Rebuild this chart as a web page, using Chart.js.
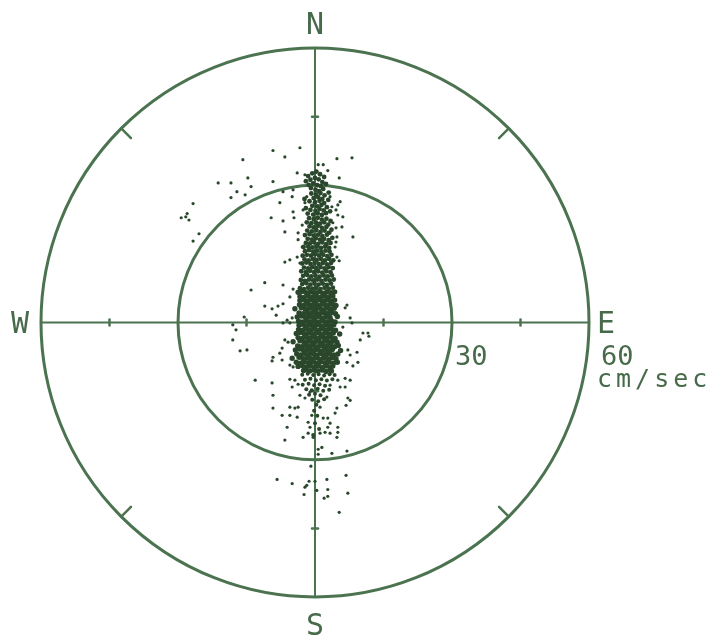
<!DOCTYPE html>
<html>
<head>
<meta charset="utf-8">
<title>Current velocity scatter</title>
<script src="https://cdn.jsdelivr.net/npm/chart.js@4.4.1/dist/chart.umd.min.js"></script>
<style>
  html, body { margin: 0; padding: 0; background: #ffffff; }
  #wrap { width: 712px; height: 638px; }
</style>
</head>
<body>
<div id="wrap"><canvas id="rose" width="712" height="638"></canvas></div>
<script>
// Speed rings (cm/sec) and their labels
const ringSpeeds = [30, 60];
const ringLabels = ['30', '60'];
const unitLabel = 'cm/sec';
// Minor tick marks along the N-S and E-W axes (cm/sec)
const axisTickSpeeds = [15, 45];
const compassPoints = ['N', 'E', 'S', 'W'];

// Velocity samples as [east, north] components in cm/sec
const northColumn = [
  [-1.5,32.0],[-0.6,32.6],[0.3,33.0],[1.1,32.4],[2.0,31.8],[-2.0,30.9],[-1.0,31.2],[0.0,31.6],[0.8,31.3],[1.6,30.7],
  [2.4,30.3],[-1.4,30.1],[-0.4,30.4],[0.5,30.0],[1.3,29.8],[-0.9,29.4],[0.1,29.0],[0.9,28.7],[1.8,29.2],
  [-0.8,28.2],[0.2,28.0],[1.2,28.3],[2.1,27.8],[-0.3,27.2],[0.7,27.4],[1.6,27.0],[-1.2,26.5],[0.0,26.3],[1.0,26.6],
  [2.0,26.1],[-0.6,25.5],[0.5,25.4],[1.4,25.7],[2.6,25.2],[-1.0,24.6],[0.1,24.4],[1.0,24.8],[1.9,24.5],[-1.6,23.8],
  [-0.4,23.6],[0.6,23.9],[1.5,23.5],[2.4,23.9],[-2.3,27.0],[3.0,28.4],[-2.0,25.0],[3.3,24.3],[2.9,26.8],
  [-1.3,22.8],[-0.3,22.6],[0.6,22.9],[1.5,22.5],[2.5,22.7],[3.4,22.2],[-1.8,21.9],[-0.8,21.7],[0.2,21.9],[1.1,21.6],
  [2.0,21.9],[2.9,21.4],[-1.2,21.0],[-0.3,20.8],[0.6,21.1],[1.5,20.7],[2.5,20.9],[3.6,20.3],[-1.7,20.1],[-0.7,19.9],
  [0.3,20.2],[1.2,19.8],[2.1,20.1],[3.0,19.6],[-2.2,19.1],[-1.2,19.3],[-0.3,19.0],[0.7,19.2],[1.6,18.9],[2.6,19.2],
  [-1.6,18.3],[-0.7,18.1],[0.2,18.4],[1.1,18.1],[2.0,18.3],[3.0,18.0],[3.8,18.5],[-2.0,17.4],[-1.1,17.3],[-0.2,17.5],
  [0.7,17.2],[1.6,17.5],[2.5,17.1],[3.4,17.4],[-2.5,16.5],[-1.5,16.6],[-0.6,16.4],[0.4,16.6],[1.3,16.3],[2.2,16.6],[3.1,16.3],
  [-2.2,15.6],[-1.3,15.8],[-0.4,15.5],[0.5,15.7],[1.4,15.4],[2.3,15.7],[3.2,15.5],
  [-2.7,14.6],[-1.8,14.8],[-0.9,14.6],[0.0,14.9],[0.9,14.6],[1.8,14.8],[2.7,14.5],[3.6,14.8],
  [-2.3,13.8],[-1.4,13.6],[-0.5,13.9],[0.4,13.7],[1.3,13.9],[2.2,13.6],[3.1,13.9],[4.0,13.6],
  [-2.8,12.9],[-1.9,13.1],[-1.0,12.8],[-0.1,13.0],[0.8,12.8],[1.7,13.0],[2.6,12.7],[3.5,13.0],
  [-2.4,12.0],[-1.5,11.8],[-0.6,12.1],[0.3,11.9],[1.2,12.1],[2.1,11.8],[3.0,12.1],[3.9,11.9],
  [-3.0,11.2],[-2.0,11.0],[-1.1,11.3],[-0.2,11.0],[0.7,11.2],[1.6,10.9],[2.5,11.2],[3.4,11.0],
  [-2.6,10.2],[-1.7,10.4],[-0.8,10.1],[0.1,10.3],[1.0,10.0],[1.9,10.3],[2.8,10.1],[3.7,10.3],
  [-3.1,9.3],[-2.2,9.1],[-1.3,9.4],[-0.4,9.2],[0.5,9.4],[1.4,9.1],[2.3,9.4],[3.2,9.2],[4.1,9.4],
  [-2.8,8.4],[-1.9,8.6],[-1.0,8.3],[-0.1,8.5],[0.8,8.3],[1.7,8.5],[2.6,8.2],[3.5,8.5],
  [-3.3,7.5],[-2.4,7.3],[-1.5,7.6],[-0.6,7.4],[0.3,7.6],[1.2,7.3],[2.1,7.6],[3.0,7.4],[3.9,7.6]
];

const coreCluster = [
  [-3.7,6.6],[-2.8,6.8],[-1.9,6.5],[-1.0,6.7],[-0.1,6.5],[0.8,6.7],[1.7,6.4],[2.6,6.7],[3.5,6.5],[4.3,6.7],
  [-3.3,5.7],[-2.4,5.5],[-1.5,5.8],[-0.6,5.6],[0.3,5.8],[1.2,5.5],[2.1,5.8],[3.0,5.6],[3.9,5.8],
  [-3.3,4.8],[-2.9,5.0],[-2.0,4.7],[-1.1,4.9],[-0.2,4.7],[0.7,4.9],[1.6,4.7],[2.5,4.9],[3.4,4.7],[4.3,4.9],
  [-3.4,3.9],[-2.5,3.7],[-1.6,4.0],[-0.7,3.8],[0.2,4.0],[1.1,3.7],[2.0,4.0],[2.9,3.8],[3.8,4.0],[4.6,3.7],
  [-4.4,3.0],[-3.0,3.2],[-2.1,2.9],[-1.2,3.1],[-0.3,2.9],[0.6,3.1],[1.5,2.8],[2.4,3.1],[3.3,2.9],[4.2,3.1],
  [-3.5,2.1],[-2.6,1.9],[-1.7,2.2],[-0.8,2.0],[0.1,2.2],[1.0,1.9],[1.9,2.2],[2.8,2.0],[3.7,2.2],[4.5,1.9],
  [-3.9,1.2],[-3.0,1.4],[-2.1,1.1],[-1.2,1.3],[-0.3,1.1],[0.6,1.3],[1.5,1.0],[2.4,1.3],[3.3,1.1],[4.9,1.3],
  [-3.6,0.3],[-2.7,0.1],[-1.8,0.4],[-0.9,0.2],[0.0,0.4],[0.9,0.1],[1.8,0.4],[2.7,0.2],[3.6,0.4],[4.4,0.1],
  [-3.5,-0.6],[-3.1,-0.4],[-2.2,-0.7],[-1.3,-0.5],[-0.4,-0.7],[0.5,-0.5],[1.4,-0.8],[2.3,-0.5],[3.2,-0.7],[4.1,-0.5],
  [-3.6,-1.5],[-2.7,-1.7],[-1.8,-1.4],[-0.9,-1.6],[0.0,-1.4],[0.9,-1.7],[1.8,-1.4],[2.7,-1.6],[3.6,-1.4],[4.5,-1.7],
  [-4.1,-2.4],[-3.2,-2.2],[-2.3,-2.5],[-1.4,-2.3],[-0.5,-2.5],[0.4,-2.3],[1.3,-2.6],[2.2,-2.3],[3.1,-2.5],[4.0,-2.3],[5.4,-2.5],
  [-3.7,-3.3],[-2.8,-3.5],[-1.9,-3.2],[-1.0,-3.4],[-0.1,-3.2],[0.8,-3.5],[1.7,-3.2],[2.6,-3.4],[3.5,-3.2],[4.4,-3.5],
  [-4.8,-4.2],[-3.3,-4.0],[-2.4,-4.3],[-1.5,-4.1],[-0.6,-4.3],[0.3,-4.1],[1.2,-4.4],[2.1,-4.1],[3.0,-4.3],[3.9,-4.1],[4.8,-4.3],
  [-3.8,-5.1],[-2.9,-5.3],[-2.0,-5.0],[-1.1,-5.2],[-0.2,-5.0],[0.7,-5.3],[1.6,-5.0],[2.5,-5.2],[3.4,-5.0],[4.3,-5.3],[5.1,-5.0],
  [-4.3,-6.0],[-3.4,-5.8],[-2.5,-6.1],[-1.6,-5.9],[-0.7,-6.1],[0.2,-5.9],[1.1,-6.2],[2.0,-5.9],[2.9,-6.1],[3.8,-5.9],[5.6,-6.1],
  [-4.0,-6.9],[-3.1,-7.1],[-2.2,-6.8],[-1.3,-7.0],[-0.4,-6.8],[0.5,-7.1],[1.4,-6.8],[2.3,-7.0],[3.2,-6.8],[4.1,-7.1],[5.0,-6.9],
  [-5.0,-7.8],[-3.5,-7.6],[-2.6,-7.9],[-1.7,-7.7],[-0.8,-7.9],[0.1,-7.7],[1.0,-8.0],[1.9,-7.7],[2.8,-7.9],[3.7,-7.7],[4.6,-7.9],
  [-4.1,-8.7],[-3.2,-8.9],[-2.3,-8.6],[-1.4,-8.8],[-0.5,-8.6],[0.4,-8.9],[1.3,-8.6],[2.2,-8.8],[3.1,-8.6],[4.0,-8.9],[4.9,-8.7],
  [-3.7,-9.6],[-2.8,-9.4],[-1.9,-9.7],[-1.0,-9.5],[-0.1,-9.7],[0.8,-9.5],[1.7,-9.8],[2.6,-9.5],[3.5,-9.7],[3.9,-9.5],
  [-2.5,-10.5],[-2.1,-10.3],[-1.2,-10.6],[-0.3,-10.4],[0.6,-10.6],[1.5,-10.4],[2.4,-10.7],[3.3,-10.4],[3.6,-10.6]
];

const southTail = [
  [-2.8,-11.4],[-1.6,-11.2],[-0.4,-11.5],[0.8,-11.3],[2.0,-11.6],[3.2,-11.3],[4.3,-11.5],
  [-2.2,-12.5],[-1.0,-12.3],[0.2,-12.6],[1.4,-12.4],[2.6,-12.7],[3.8,-12.4],
  [-2.7,-13.6],[-1.4,-13.4],[-0.2,-13.7],[1.0,-13.5],[2.2,-13.8],
  [-1.9,-14.6],[-0.7,-14.8],[0.6,-14.5],[1.8,-14.9],[3.1,-14.7],
  [-1.3,-15.8],[0.0,-15.6],[1.2,-15.9],[-0.6,-16.9],[0.7,-17.2],[2.0,-16.8],
  [0.3,-18.0],[-0.2,-19.3],[0.5,-20.4],[0.0,-22.0],[0.9,-23.3],[-0.4,-24.6]
];

const scatterSamples = [
  [-15.8,35.6],[-9.2,37.6],[4.8,35.8],[-14.7,31.6],[-18.4,30.5],[-14.0,29.7],[-9.2,30.8],[-3.9,32.7],[-2.2,32.3],
  [0.7,34.5],[1.8,34.5],[2.8,33.2],[5.3,31.6],[-17.1,28.6],[-15.3,27.9],[-18.4,27.3],[-7.0,28.6],[-4.8,29.0],
  [-7.7,26.2],[-5.0,27.5],[-4.8,24.2],[-9.6,22.9],[-7.0,22.2],[-4.6,22.9],[-2.6,24.6],[-6.6,19.8],[-3.7,19.6],
  [8.3,18.7],[3.3,27.5],[5.0,25.7],[5.5,26.4],[6.1,23.1],[5.9,20.9],[4.8,18.7],[4.6,20.7],[-2.8,16.5],[-3.9,14.3],
  [-5.5,13.7],[-3.3,13.0],[-6.6,13.2],[4.4,16.5],[4.8,14.3],[5.3,13.5],[-14.0,7.1],[-11.0,8.7],[-7.0,8.2],[-4.8,7.3],
  [-5.5,5.6],[3.7,25.3],[4.6,24.6],[5.0,23.5],[3.9,21.8],[3.3,19.6],[4.6,17.6],[-2.8,21.3],[-3.7,18.1],[-2.2,26.2],
  [-1.8,27.5],[-3.3,38.2],[-6.6,36.2],[8.1,36.0],
  [-21.2,30.5],[-26.7,26.0],[-28.0,23.8],[-28.3,23.1],[-29.3,22.9],[-27.6,22.4],[-25.4,19.4],[-26.7,17.8],
  [-18.0,-0.5],[-18.0,-3.8],
  [-11.0,3.6],[-8.1,3.6],[-7.0,4.1],[-9.4,3.0],[-15.5,1.2],[-17.3,-1.6],[-16.4,-6.2],[-14.9,-6.0],[-8.5,1.6],
  [-6.1,0.5],[-5.0,1.0],[-7.0,-0.1],[-5.5,-0.1],[7.0,3.8],[6.6,3.2],[7.7,1.0],[8.1,-0.1],[6.1,-1.0],[10.5,-2.3],
  [11.6,-2.3],[11.8,-3.0],[9.9,-3.8],[9.2,-6.5],[7.2,-6.0],[7.7,-7.1],[7.0,-8.7],[9.4,-8.7],[8.3,-9.5],[-6.6,-3.8],
  [-5.9,-4.3],[-7.2,-5.6],[-7.7,-6.7],[-9.2,-7.6],[-9.4,-8.4],[-7.2,-8.2],[-5.5,-9.3],[-4.8,-9.7],[-13.1,-12.6],
  [-9.4,-13.2],[-5.5,-12.4],[-4.4,-12.6],[-5.0,-14.1],[-3.7,-13.5],[-9.2,-15.9],[-3.3,-15.9],[-2.2,-16.5],[-1.1,-15.2],
  [2.6,-16.3],[3.3,-13.7],[5.0,-12.6],[6.6,-12.2],[7.7,-12.6],[5.5,-14.1],[6.6,-14.1],[7.2,-16.5],[6.8,-18.1],
  [7.7,-17.0],[-9.2,-18.7],[-7.2,-20.3],[-5.5,-20.3],[-3.9,-20.7],[-5.5,-18.5],[-4.4,-18.7],[-3.7,-18.5],[-0.7,-20.3],
  [1.1,-18.5],[1.8,-20.9],[2.8,-20.9],[3.3,-22.0],[4.8,-18.7],[4.4,-19.8],[5.0,-22.9],[5.0,-24.0],[-6.1,-22.9],
  [-1.5,-21.8],[-1.1,-22.9],[-2.6,-25.1],[-0.4,-25.1],[2.8,-22.9],[3.3,-24.2],
  [-6.6,-25.7],[-1.5,-24.2],[1.1,-24.2],[2.2,-24.0],[4.8,-25.1],[0.7,-27.7],[1.5,-27.3],[0.7,-28.8],[3.7,-28.6],
  [7.0,-28.1],[-0.9,-31.4],[-8.3,-34.3],[-5.0,-35.2],[-1.3,-34.7],[0.0,-34.7],[-1.8,-35.6],[-2.2,-36.0],[2.6,-34.3],
  [0.4,-36.7],[2.8,-36.5],[6.8,-33.4],[7.2,-37.3],[-2.4,-37.6],[2.0,-38.4],[2.8,-38.0],[5.3,-41.5]
];

const dotInk = '#2a472c';
const lineInk = '#4b7350';
const textInk = '#476a4a';

const toPoints = pairs => pairs.map(([e, n]) => ({ x: e, y: n }));

// Compass rose: speed rings, N-S / E-W axes, tick marks and labels
const compassRose = {
  id: 'compassRose',
  beforeDraw(chart) {
    const ctx = chart.ctx;
    ctx.save();
    ctx.fillStyle = '#ffffff';
    ctx.fillRect(0, 0, chart.width, chart.height);
    ctx.restore();
  },
  beforeDatasetsDraw(chart) {
    const ctx = chart.ctx;
    const xs = chart.scales.x, ys = chart.scales.y;
    const cx = xs.getPixelForValue(0), cy = ys.getPixelForValue(0);
    const outer = ringSpeeds[ringSpeeds.length - 1];
    const rx = s => xs.getPixelForValue(s) - cx;
    const ry = s => cy - ys.getPixelForValue(s);

    ctx.save();
    ctx.strokeStyle = lineInk;
    ctx.lineCap = 'round';

    // rings
    ctx.lineWidth = 3;
    ringSpeeds.forEach(s => {
      ctx.beginPath();
      ctx.ellipse(cx, cy, rx(s), ry(s), 0, 0, Math.PI * 2);
      ctx.stroke();
    });

    // axes
    ctx.lineWidth = 2;
    ctx.beginPath();
    ctx.moveTo(cx, ys.getPixelForValue(outer));
    ctx.lineTo(cx, ys.getPixelForValue(-outer));
    ctx.moveTo(xs.getPixelForValue(-outer), cy);
    ctx.lineTo(xs.getPixelForValue(outer), cy);
    ctx.stroke();

    // axis ticks
    ctx.lineWidth = 2.5;
    const half = 3;
    axisTickSpeeds.forEach(s => {
      [s, -s].forEach(v => {
        const py = ys.getPixelForValue(v);
        ctx.beginPath();
        ctx.moveTo(cx - half, py); ctx.lineTo(cx + half, py);
        ctx.stroke();
        const px = xs.getPixelForValue(v);
        ctx.beginPath();
        ctx.moveTo(px, cy - half); ctx.lineTo(px, cy + half);
        ctx.stroke();
      });
    });

    // diagonal ticks on the outer ring
    ctx.lineWidth = 2.5;
    [45, 135, 225, 315].forEach(deg => {
      const a = deg * Math.PI / 180;
      const c = Math.cos(a), s = Math.sin(a);
      ctx.beginPath();
      ctx.moveTo(cx + rx(outer) * c, cy - ry(outer) * s);
      ctx.lineTo(cx + rx(outer - 3) * c, cy - ry(outer - 3) * s);
      ctx.stroke();
    });

    // labels
    ctx.fillStyle = textInk;
    ctx.textBaseline = 'alphabetic';
    const top = ys.getPixelForValue(outer), bottom = ys.getPixelForValue(-outer);
    const left = xs.getPixelForValue(-outer), right = xs.getPixelForValue(outer);
    ctx.font = '30px "DejaVu Sans Mono"';
    ctx.textAlign = 'center';
    ctx.fillText(compassPoints[0], cx, top - 14.5);
    ctx.fillText(compassPoints[2], cx, bottom + 38);
    ctx.fillText(compassPoints[3], left - 21, cy + 10.5);
    ctx.textAlign = 'left';
    ctx.fillText(compassPoints[1], right + 8, cy + 10.5);

    ctx.font = '27px "DejaVu Sans Mono"';
    ringSpeeds.forEach((s, i) => {
      ctx.fillText(ringLabels[i], cx + rx(s) + (i === 0 ? 3 : 12), cy + 42.5);
    });
    ctx.font = '25px "DejaVu Sans Mono"';
    ctx.letterSpacing = '4px';
    ctx.fillText(unitLabel, right + 8, cy + 64.5);
    ctx.letterSpacing = '0px';
    ctx.restore();
  }
};

const columnStyle = {
  backgroundColor: dotInk, borderWidth: 0, pointRadius: 2.4, pointHoverRadius: 2.4
};
const coreStyle = {
  backgroundColor: dotInk, borderWidth: 0, pointRadius: 2.7, pointHoverRadius: 2.7
};
const sparseStyle = {
  backgroundColor: dotInk, borderWidth: 0, pointRadius: 1.6, pointHoverRadius: 1.6
};

new Chart(document.getElementById('rose'), {
  type: 'scatter',
  data: {
    datasets: [
      Object.assign({ label: 'north column', data: toPoints(northColumn) }, columnStyle),
      Object.assign({ label: 'core', data: toPoints(coreCluster) }, coreStyle),
      Object.assign({ label: 'south tail', data: toPoints(southTail) }, sparseStyle, { pointRadius: 2.0 }),
      Object.assign({ label: 'scatter', data: toPoints(scatterSamples) }, sparseStyle)
    ]
  },
  options: {
    responsive: false,
    animation: false,
    devicePixelRatio: 1,
    layout: { padding: { left: 41, right: 123, top: 48, bottom: 41 } },
    scales: {
      x: { type: 'linear', min: -60, max: 60, display: false },
      y: { type: 'linear', min: -60, max: 60, display: false }
    },
    plugins: { legend: { display: false }, tooltip: { enabled: false } }
  },
  plugins: [compassRose]
});
</script>
</body>
</html>
